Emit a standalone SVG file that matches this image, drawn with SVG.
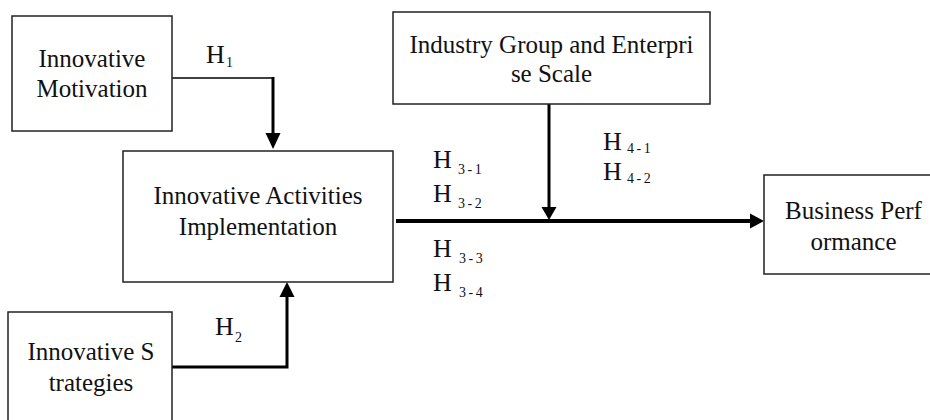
<svg xmlns="http://www.w3.org/2000/svg" width="930" height="420" viewBox="0 0 930 420">
<style>
.box{fill:#fff;stroke:#222;stroke-width:1.5}
.t{font-family:"Liberation Serif","Times New Roman",serif;font-size:25px;fill:#111;text-anchor:middle}
.h{font-family:"Liberation Serif","Times New Roman",serif;font-size:26px;fill:#111}
.s{font-family:"Liberation Serif","Times New Roman",serif;font-size:14px;fill:#111;letter-spacing:2.5px}
.c{fill:none;stroke:#000}
</style>
<defs>
<marker id="ah" markerWidth="10" markerHeight="10" viewBox="0 0 10 10" refX="10" refY="5" orient="auto" markerUnits="userSpaceOnUse">
<path d="M0,0 L10,5 L0,10 z" fill="#000"/>
</marker>
</defs>
<rect width="930" height="420" fill="#fff"/>
<g id="connectors">
<path class="c" d="M172,78 H273" stroke-width="1.5"/>
<path class="c" d="M273,77 V134" stroke-width="3"/>
<path d="M265.5,133 H280.5 L273,149 z" fill="#000"/>
<path class="c" d="M172,367 H287 V296" stroke-width="3"/>
<path d="M279.5,297 H294.5 L287,282 z" fill="#000"/>
<path class="c" d="M549,104 V208" stroke-width="3"/>
<path d="M541.5,207 H556.5 L549,220 z" fill="#000"/>
<path class="c" d="M396,221 H751" stroke-width="4"/>
<path d="M750,213.5 V228.5 L764,221 z" fill="#000"/>
</g>
<g id="labels">
<text class="h" x="206" y="63">H</text><text class="s" x="226" y="67">1</text>
<text class="h" x="215" y="335">H</text><text class="s" x="235" y="342">2</text>
<text class="h" x="433" y="168">H</text><text class="s" x="458" y="174">3-1</text>
<text class="h" x="433" y="202">H</text><text class="s" x="458" y="208">3-2</text>
<text class="h" x="433" y="257">H</text><text class="s" x="459" y="263">3-3</text>
<text class="h" x="433" y="291">H</text><text class="s" x="459" y="297">3-4</text>
<text class="h" x="603" y="150">H</text><text class="s" x="627" y="153">4-1</text>
<text class="h" x="603" y="180">H</text><text class="s" x="627" y="183">4-2</text>
</g>
<g id="innovative-motivation">
<rect class="box" x="12" y="16" width="160" height="115"/>
<text class="t" x="92" y="67">Innovative</text>
<text class="t" x="92" y="97">Motivation</text>
</g>
<g id="innovative-activities">
<rect class="box" x="123" y="151" width="270" height="131"/>
<text class="t" x="258" y="204">Innovative Activities</text>
<text class="t" x="258" y="235">Implementation</text>
</g>
<g id="industry-group">
<rect class="box" x="393" y="12" width="317" height="92"/>
<text class="t" x="551.5" y="53">Industry Group and Enterpri</text>
<text class="t" x="551.5" y="82">se Scale</text>
</g>
<g id="business-performance">
<rect class="box" x="764" y="175" width="180" height="99"/>
<text class="t" x="853.5" y="219">Business Perf</text>
<text class="t" x="853.5" y="250">ormance</text>
</g>
<g id="innovative-strategies">
<rect class="box" x="8" y="312" width="164" height="120"/>
<text class="t" x="91" y="360">Innovative S</text>
<text class="t" x="91" y="391">trategies</text>
</g>
</svg>
